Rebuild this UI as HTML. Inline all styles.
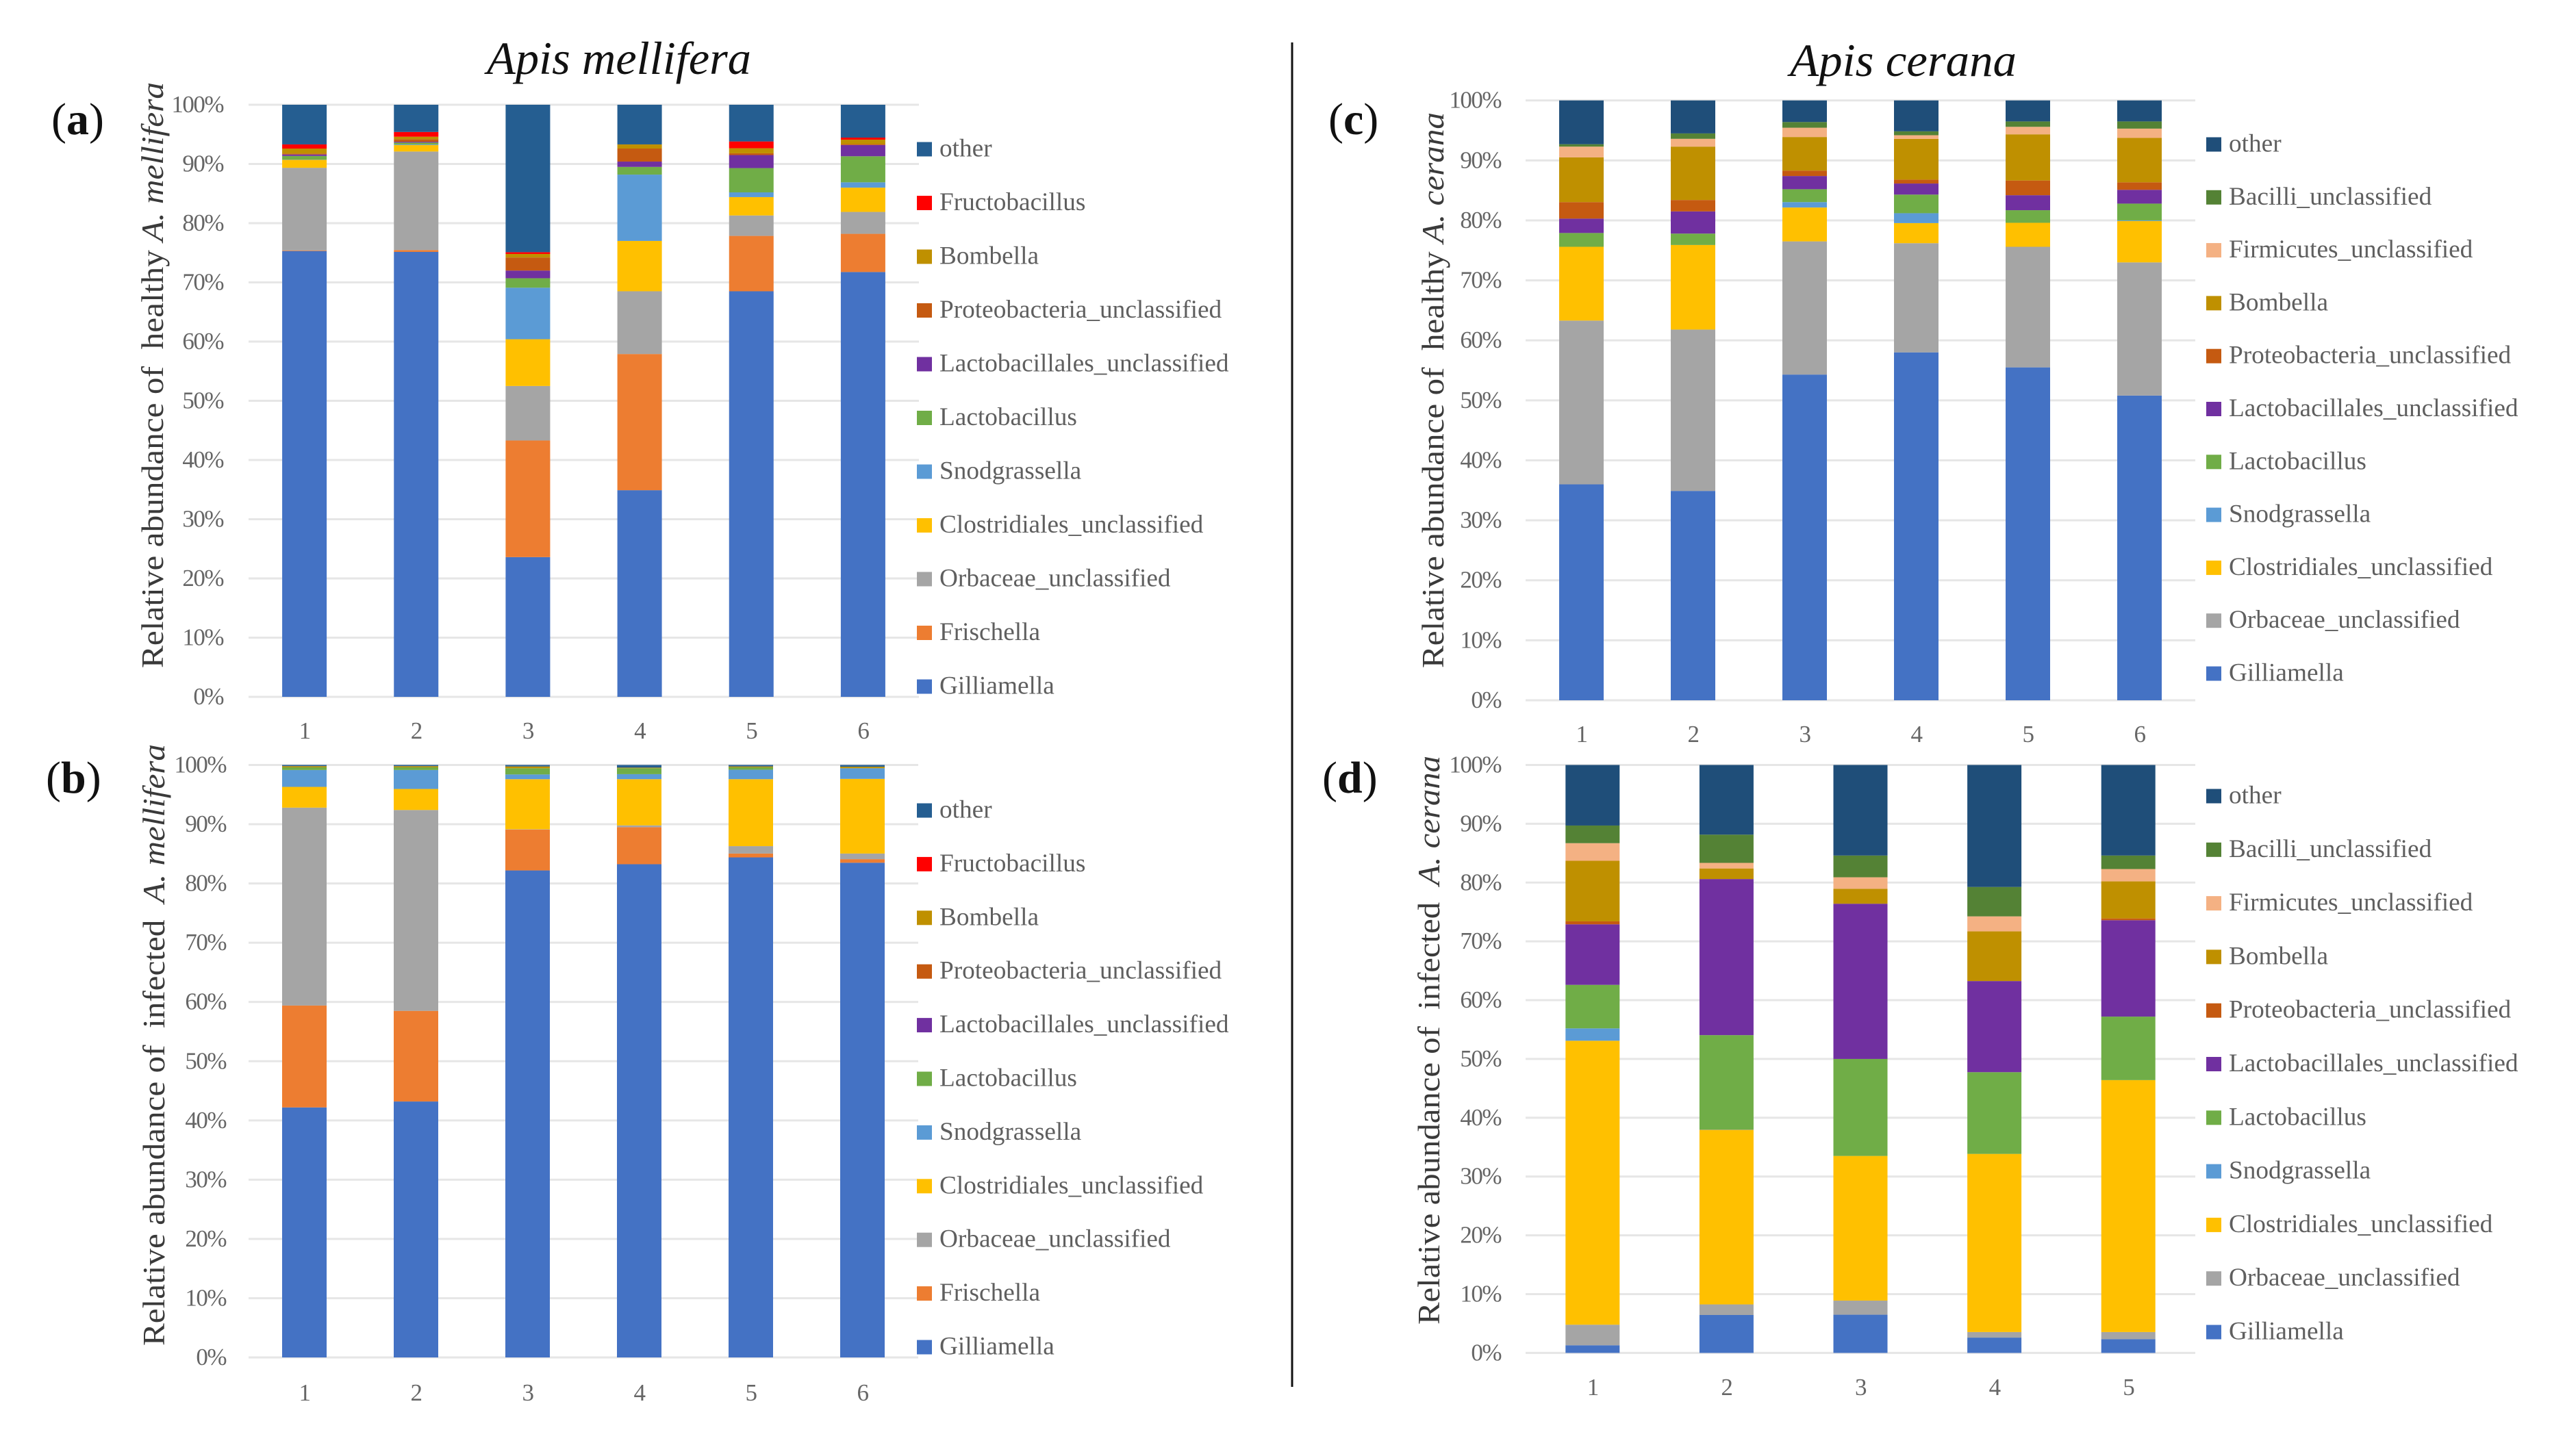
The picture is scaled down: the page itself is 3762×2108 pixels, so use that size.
<!DOCTYPE html>
<html lang="en">
<head>
<meta charset="utf-8">
<title>Relative abundance of gut bacteria in Apis mellifera and Apis cerana</title>
<style>
html,body{margin:0;padding:0;background:#fff;}
svg{display:block;font-family:"Liberation Serif",serif;}
.tick{font-size:35px;letter-spacing:-1.5px;fill:#666;}
.legend-text{font-size:37.3px;fill:#5f5f5f;}
.ytitle{font-size:46px;fill:#3a3a3a;}
.title{font-size:68px;font-style:italic;fill:#111;}
.plabel{font-size:66px;fill:#111;}
</style>
</head>
<body>
<svg id="figure" xmlns="http://www.w3.org/2000/svg" width="3762" height="2108" viewBox="0 0 3762 2108">
  <rect x="0" y="0" width="3762" height="2108" fill="#fff"/>
  <rect x="1885.5" y="62" width="3" height="1964" fill="#111"/>
  <text class="title" x="711" y="108" textLength="386" lengthAdjust="spacingAndGlyphs">Apis mellifera</text>
  <text class="title" x="2614" y="111" textLength="331" lengthAdjust="spacingAndGlyphs">Apis cerana</text>
  <text class="plabel" x="75" y="196">(<tspan font-weight="bold">a</tspan>)</text>
  <text class="plabel" x="67" y="1158">(<tspan font-weight="bold">b</tspan>)</text>
  <text class="plabel" x="1940" y="196">(<tspan font-weight="bold">c</tspan>)</text>
  <text class="plabel" x="1931" y="1158">(<tspan font-weight="bold">d</tspan>)</text>
  <text class="ytitle" xml:space="preserve" transform="translate(238,976) rotate(-90)" textLength="856" lengthAdjust="spacingAndGlyphs">Relative abundance of  healthy <tspan font-style="italic">A. mellifera</tspan></text>
  <text class="ytitle" xml:space="preserve" transform="translate(240,1966) rotate(-90)" textLength="879" lengthAdjust="spacingAndGlyphs">Relative abundance of  infected  <tspan font-style="italic">A. mellifera</tspan></text>
  <text class="ytitle" xml:space="preserve" transform="translate(2108,976) rotate(-90)" textLength="812" lengthAdjust="spacingAndGlyphs">Relative abundance of  healthy <tspan font-style="italic">A. cerana</tspan></text>
  <text class="ytitle" xml:space="preserve" transform="translate(2102,1935) rotate(-90)" textLength="831" lengthAdjust="spacingAndGlyphs">Relative abundance of  infected  <tspan font-style="italic">A. cerana</tspan></text>
</svg>
<script>
// ---- Shared axis data ----
const yTicks = [0, 10, 20, 30, 40, 50, 60, 70, 80, 90, 100];
const samplesSix = [1, 2, 3, 4, 5, 6];
const samplesFive = [1, 2, 3, 4, 5];

// ---- Panel (a): healthy A. mellifera, percent per sample ----
const aGilliamella = [75.3, 75.15, 23.6, 34.9, 68.5, 71.75];
const aFrischella = [0.1, 0.3, 19.7, 23, 9.35, 6.45];
const aOrbaceae = [13.95, 16.65, 9.2, 10.6, 3.45, 3.7];
const aClostridiales = [1.35, 1.1, 7.9, 8.5, 3.1, 4.1];
const aSnodgrassella = [0.05, 0.1, 8.7, 11.2, 0.8, 0.9];
const aLactobacillus = [0.6, 0.3, 1.6, 1.3, 4.1, 4.4];
const aLactobacillales = [0.25, 0.15, 1.3, 0.9, 2.2, 1.9];
const aProteobacteria = [0.15, 0.4, 2.2, 2.2, 0.3, 0.15];
const aBombella = [0.85, 0.45, 0.6, 0.7, 0.85, 0.75];
const aFructobacillus = [0.7, 0.8, 0.3, 0, 1.15, 0.35];
const aOther = [6.7, 4.6, 24.9, 6.7, 6.2, 5.55];

// ---- Panel (b): infected A. mellifera ----
const bGilliamella = [42.2, 43.2, 82.2, 83.25, 84.4, 83.5];
const bFrischella = [17.2, 15.3, 6.9, 6.25, 0.65, 0.6];
const bOrbaceae = [33.4, 33.9, 0.05, 0.3, 1.25, 0.95];
const bClostridiales = [3.5, 3.55, 8.45, 7.8, 11.3, 12.6];
const bSnodgrassella = [2.85, 3.2, 0.8, 0.85, 1.6, 1.8];
const bLactobacillus = [0.45, 0.45, 1.05, 1, 0.4, 0];
const bLactobacillales = [0, 0, 0, 0, 0, 0];
const bProteobacteria = [0, 0, 0, 0, 0, 0];
const bBombella = [0.2, 0.2, 0.3, 0.1, 0.15, 0.25];
const bFructobacillus = [0, 0, 0, 0, 0, 0];
const bOther = [0.2, 0.2, 0.25, 0.45, 0.25, 0.3];

// ---- Panel (c): healthy A. cerana ----
const cGilliamella = [36, 34.9, 54.3, 58, 55.5, 50.8];
const cOrbaceae = [27.3, 26.9, 22.2, 18.2, 20.1, 22.2];
const cClostridiales = [12.3, 14.1, 5.65, 3.35, 4, 6.9];
const cSnodgrassella = [0, 0, 0.9, 1.65, 0, 0.1];
const cLactobacillus = [2.3, 1.9, 2.15, 3.1, 2.1, 2.8];
const cLactobacillales = [2.4, 3.7, 2.2, 1.85, 2.5, 2.3];
const cProteobacteria = [2.75, 1.9, 0.9, 0.65, 2.45, 1.25];
const cBombella = [7.45, 8.9, 5.6, 6.8, 7.7, 7.4];
const cFirmicutes = [1.8, 1.3, 1.55, 0.6, 1.25, 1.55];
const cBacilli = [0.4, 0.9, 0.95, 0.65, 0.9, 1.2];
const cOther = [7.3, 5.5, 3.6, 5.15, 3.5, 3.5];

// ---- Panel (d): infected A. cerana ----
const dGilliamella = [1.3, 6.45, 6.5, 2.6, 2.35];
const dOrbaceae = [3.5, 1.8, 2.4, 0.95, 1.2];
const dClostridiales = [48.3, 29.7, 24.6, 30.3, 42.85];
const dSnodgrassella = [2.1, 0.05, 0, 0, 0];
const dLactobacillus = [7.4, 16.05, 16.5, 13.9, 10.8];
const dLactobacillales = [10.3, 26.55, 26.4, 15.5, 16.4];
const dProteobacteria = [0.5, 0, 0, 0, 0.3];
const dBombella = [10.3, 1.8, 2.55, 8.45, 6.3];
const dFirmicutes = [3, 0.95, 1.95, 2.55, 2.1];
const dBacilli = [3, 4.8, 3.7, 5, 2.3];
const dOther = [10.3, 11.85, 15.4, 20.75, 15.4];

const C = {
  Gilliamella: '#4472c4', Frischella: '#ed7d31', Orbaceae_unclassified: '#a5a5a5',
  Clostridiales_unclassified: '#ffc000', Snodgrassella: '#5b9bd5', Lactobacillus: '#70ad47',
  Lactobacillales_unclassified: '#7030a0', Proteobacteria_unclassified: '#c55a11',
  Bombella: '#bf9000', Firmicutes_unclassified: '#f4b183', Bacilli_unclassified: '#548235',
  Fructobacillus: '#ff0000'
};

const panels = [
  { id: 'a', cats: samplesSix, x0: 363, x1: 1342, yTop: 153, yBot: 1018, barW: 65, tickR: 326, catY: 1079,
    legX: 1339, legTop: 218, legStep: 78.5, otherColor: '#255e91',
    series: [['Gilliamella', aGilliamella], ['Frischella', aFrischella], ['Orbaceae_unclassified', aOrbaceae], ['Clostridiales_unclassified', aClostridiales], ['Snodgrassella', aSnodgrassella], ['Lactobacillus', aLactobacillus], ['Lactobacillales_unclassified', aLactobacillales], ['Proteobacteria_unclassified', aProteobacteria], ['Bombella', aBombella], ['Fructobacillus', aFructobacillus], ['other', aOther]] },
  { id: 'b', cats: samplesSix, x0: 363, x1: 1341, yTop: 1117.5, yBot: 1983, barW: 65, tickR: 330, catY: 2046,
    legX: 1339, legTop: 1184, legStep: 78.4, otherColor: '#255e91',
    series: [['Gilliamella', bGilliamella], ['Frischella', bFrischella], ['Orbaceae_unclassified', bOrbaceae], ['Clostridiales_unclassified', bClostridiales], ['Snodgrassella', bSnodgrassella], ['Lactobacillus', bLactobacillus], ['Lactobacillales_unclassified', bLactobacillales], ['Proteobacteria_unclassified', bProteobacteria], ['Bombella', bBombella], ['Fructobacillus', bFructobacillus], ['other', bOther]] },
  { id: 'c', cats: samplesSix, x0: 2228, x1: 3206, yTop: 146.7, yBot: 1023, barW: 65, tickR: 2192, catY: 1084,
    legX: 3222, legTop: 211, legStep: 77.3, otherColor: '#1f4e79',
    series: [['Gilliamella', cGilliamella], ['Orbaceae_unclassified', cOrbaceae], ['Clostridiales_unclassified', cClostridiales], ['Snodgrassella', cSnodgrassella], ['Lactobacillus', cLactobacillus], ['Lactobacillales_unclassified', cLactobacillales], ['Proteobacteria_unclassified', cProteobacteria], ['Bombella', cBombella], ['Firmicutes_unclassified', cFirmicutes], ['Bacilli_unclassified', cBacilli], ['other', cOther]] },
  { id: 'd', cats: samplesFive, x0: 2228, x1: 3206, yTop: 1117.5, yBot: 1976.4, barW: 79, tickR: 2192, catY: 2038,
    legX: 3222, legTop: 1163, legStep: 78.3, otherColor: '#1f4e79',
    series: [['Gilliamella', dGilliamella], ['Orbaceae_unclassified', dOrbaceae], ['Clostridiales_unclassified', dClostridiales], ['Snodgrassella', dSnodgrassella], ['Lactobacillus', dLactobacillus], ['Lactobacillales_unclassified', dLactobacillales], ['Proteobacteria_unclassified', dProteobacteria], ['Bombella', dBombella], ['Firmicutes_unclassified', dFirmicutes], ['Bacilli_unclassified', dBacilli], ['other', dOther]] }
];

const NS = 'http://www.w3.org/2000/svg';
const svg = document.getElementById('figure');

function make(tag, attrs, text) {
  const el = document.createElementNS(NS, tag);
  for (const k in attrs) el.setAttribute(k, attrs[k]);
  if (text !== undefined) el.textContent = text;
  svg.appendChild(el);
  return el;
}

panels.forEach(function (p) {
  const yScale = function (v) { return p.yBot - (v / 100) * (p.yBot - p.yTop); };
  const band = (p.x1 - p.x0) / p.cats.length;
  const xCenter = function (i) { return p.x0 + band * (i + 0.5); };
  const colorOf = function (name) { return name === 'other' ? p.otherColor : C[name]; };

  yTicks.forEach(function (t) {
    const line = make('rect', { x: p.x0, y: yScale(t) - 1.5, width: p.x1 - p.x0, height: 3, fill: '#e6e6e6' });
    
    
    const lab = make('text', { x: p.tickR, y: yScale(t) + 11, 'text-anchor': 'end', class: 'tick' }, t + '%');
    
    
  });

  p.cats.forEach(function (cat, i) {
    let cum = 0;
    p.series.forEach(function (s) {
      const v = s[1][i];
      if (v > 0) {
        const yT = yScale(cum + v);
        const yB = yScale(cum);
        const seg = make('rect', { x: xCenter(i) - p.barW / 2, y: yT, width: p.barW, height: yB - yT, fill: colorOf(s[0]) });
        
        
      }
      cum += v;
    });
    const lab = make('text', { x: xCenter(i), y: p.catY, 'text-anchor': 'middle', class: 'tick' }, String(cat));
    
    
  });

  const order = p.series.slice().reverse();
  order.forEach(function (s, i) {
    const cy = p.legTop + i * p.legStep;
    const sw = make('rect', { x: p.legX, y: cy - 10.5, width: 22, height: 21, fill: colorOf(s[0]) });
    
    
    const tx = make('text', { x: p.legX + 33, y: cy + 10.5, class: 'legend-text' }, s[0]);
    
    
  });
});
</script>
</body>
</html>
